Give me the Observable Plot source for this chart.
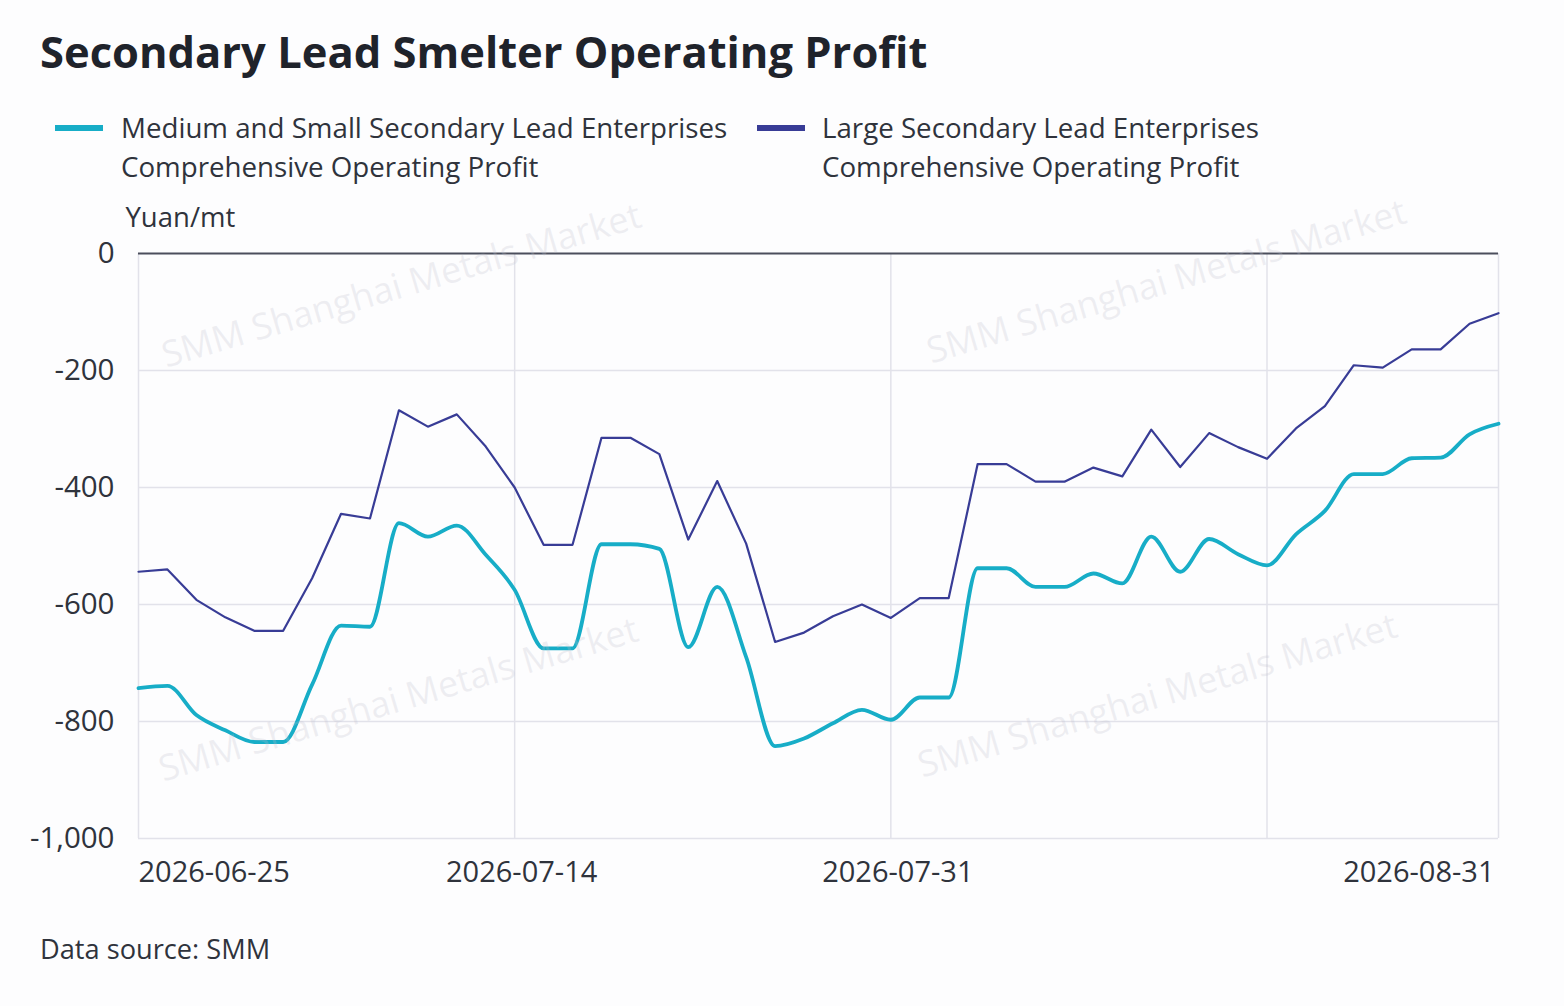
<!DOCTYPE html>
<html>
<head>
<meta charset="utf-8">
<script src="https://cdn.jsdelivr.net/npm/d3@7"></script>
<script src="https://cdn.jsdelivr.net/npm/@observablehq/plot@0.6"></script>
<style>
  html, body { margin: 0; padding: 0; background: #fdfdfe; }
  #wrap { position: relative; width: 1564px; height: 1006px; overflow: hidden; font-family: "Open Sans", "Noto Sans", sans-serif; color: #2b2f38; }
  #title { position: absolute; left: 40px; top: 22px; font-size: 43.5px; font-weight: 700; line-height: 60px; color: #1f232b; letter-spacing: 0px; white-space: nowrap; }
  .leg { position: absolute; top: 108px; font-size: 27.7px; line-height: 39px; color: #2f333c; white-space: nowrap; }
  .sw { position: absolute; top: 125px; width: 48px; height: 6px; }
  #src { position: absolute; left: 40px; top: 929px; font-size: 27.2px; line-height: 40px; color: #2f333c; }
  #chart { position: absolute; left: 0; top: 190px; }
  .wm { position: absolute; font-size: 36px; color: rgba(190,192,205,0.25); white-space: nowrap; transform: translate(-50%,-50%) rotate(-16.5deg); pointer-events: none; font-weight: 400; }
</style>
</head>
<body>
<div id="wrap">
  <div id="title">Secondary Lead Smelter Operating Profit</div>
  <div class="sw" style="left:55px; background:#17adc7;"></div>
  <div class="leg" style="left:121px;">Medium and Small Secondary Lead Enterprises<br>Comprehensive Operating Profit</div>
  <div class="sw" style="left:757px; background:#383c96;"></div>
  <div class="leg" style="left:822px;">Large Secondary Lead Enterprises<br>Comprehensive Operating Profit</div>
  <div id="chart"></div>
  <div id="src">Data source: SMM</div>
  <div class="wm" style="left:401px; top:284px;">SMM Shanghai Metals Market</div>
  <div class="wm" style="left:1166px; top:280px;">SMM Shanghai Metals Market</div>
  <div class="wm" style="left:398px; top:698px;">SMM Shanghai Metals Market</div>
  <div class="wm" style="left:1157px; top:694px;">SMM Shanghai Metals Market</div>
</div>
<script>
// Trading-day categories
const dates = [
  "2026-06-25","2026-06-26","2026-06-29","2026-06-30","2026-07-01","2026-07-02","2026-07-03","2026-07-06",
  "2026-07-07","2026-07-08","2026-07-09","2026-07-10","2026-07-13","2026-07-14","2026-07-15","2026-07-16",
  "2026-07-17","2026-07-20","2026-07-21","2026-07-22","2026-07-23","2026-07-24","2026-07-27","2026-07-28",
  "2026-07-29","2026-07-30","2026-07-31","2026-08-03","2026-08-04","2026-08-05","2026-08-06","2026-08-07",
  "2026-08-10","2026-08-11","2026-08-12","2026-08-13","2026-08-14","2026-08-17","2026-08-18","2026-08-19",
  "2026-08-20","2026-08-21","2026-08-24","2026-08-25","2026-08-26","2026-08-27","2026-08-28","2026-08-31"
];

// Medium and Small Secondary Lead Enterprises Comprehensive Operating Profit (Yuan/mt)
const mediumSmall = [
  -743, -739, -789, -815, -835, -835, -737, -636,
  -638, -461, -484, -465, -515, -575, -675, -675,
  -497, -497, -505, -673, -570, -690, -842, -829,
  -803, -780, -797, -759, -759, -538, -538, -570,
  -570, -547, -564, -484, -544, -488, -514, -533,
  -480, -440, -377, -377, -350, -349, -309, -291
];

// Large Secondary Lead Enterprises Comprehensive Operating Profit (Yuan/mt)
const large = [
  -544, -540, -592, -622, -645, -645, -555, -445,
  -453, -268, -296, -275, -330, -400, -498, -498,
  -315, -315, -343, -489, -389, -496, -664, -648,
  -620, -600, -623, -589, -589, -360, -360, -390,
  -390, -366, -381, -301, -365, -307, -331, -351,
  -299, -261, -191, -195, -164, -164, -120, -102
];

const seriesNames = [
  "Medium and Small Secondary Lead Enterprises Comprehensive Operating Profit",
  "Large Secondary Lead Enterprises Comprehensive Operating Profit"
];

const yTicks = [0, -200, -400, -600, -800, -1000];
const xGridDates = ["2026-07-14", "2026-07-31", "2026-08-19"];
const xLabelFirst = ["2026-06-25"];
const xLabelMid = ["2026-07-14", "2026-07-31"];
const xLabelLast = ["2026-08-31"];
const yUnit = "Yuan/mt";

const rows = [];
dates.forEach((d, i) => {
  rows.push({date: d, value: mediumSmall[i], series: seriesNames[0]});
  rows.push({date: d, value: large[i], series: seriesNames[1]});
});

const fmt = d => (d < 0 ? "-" : "") + d3.format(",")(Math.abs(d));
const font = '"Open Sans", "Noto Sans", sans-serif';
const txt = "#2f333c";

const chart = Plot.plot({
  width: 1564,
  height: 720,
  marginTop: 63,
  marginBottom: 72,
  marginLeft: 138,
  marginRight: 66,
  style: {fontFamily: font, fontSize: "28px", color: txt, background: "transparent", overflow: "visible"},
  x: {type: "point", domain: dates, padding: 0, axis: null},
  y: {domain: [-1000, 0], axis: null},
  marks: [
    Plot.gridY(yTicks.filter(t => t !== 0), {stroke: "#e2e2ea", strokeOpacity: 1, strokeWidth: 1.5}),
    Plot.gridX(xGridDates, {stroke: "#e2e2ea", strokeOpacity: 1, strokeWidth: 1.5}),
    Plot.ruleX([dates[0], dates[dates.length - 1]], {stroke: "#e2e2ea", strokeWidth: 1.5}),
    Plot.axisY(yTicks, {tickSize: 0, tickPadding: 24, tickFormat: fmt, fontSize: 29.5, fill: txt, label: null}),
    Plot.text([yUnit], {frameAnchor: "top-left", dx: -13, dy: -46, textAnchor: "start", fontSize: 27.5, fill: txt}),
    Plot.ruleY([0], {stroke: "#4b4e5c", strokeWidth: 2}),
    Plot.line(rows.filter(r => r.series === seriesNames[1]), {x: "date", y: "value", stroke: "#383c96", strokeWidth: 2.2}),
    Plot.line(rows.filter(r => r.series === seriesNames[0]), {x: "date", y: "value", stroke: "#17adc7", strokeWidth: 3.8, curve: "monotone-x"}),
    Plot.text(xLabelFirst, {x: d => d, frameAnchor: "bottom", lineAnchor: "middle", dy: 34, textAnchor: "start", fontSize: 29, fill: txt}),
    Plot.text(xLabelMid, {x: d => d, frameAnchor: "bottom", lineAnchor: "middle", dy: 34, dx: 7, textAnchor: "middle", fontSize: 29, fill: txt}),
    Plot.text(xLabelLast, {x: d => d, frameAnchor: "bottom", lineAnchor: "middle", dy: 34, textAnchor: "end", dx: -4, fontSize: 29, fill: txt})
  ]
});
document.getElementById("chart").appendChild(chart);
</script>
</body>
</html>
